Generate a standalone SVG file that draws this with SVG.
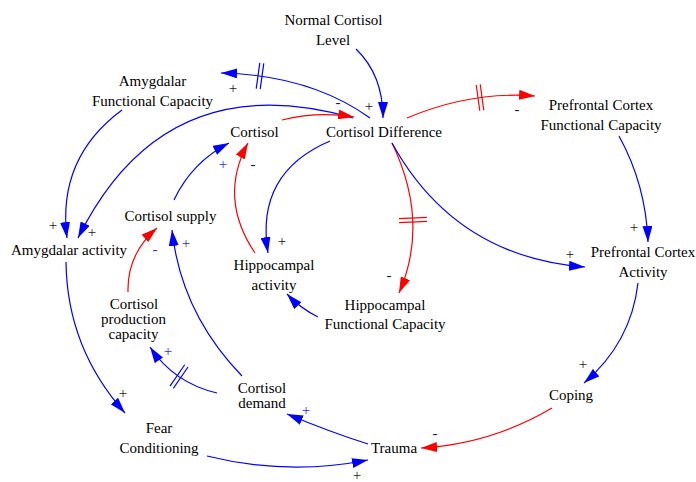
<svg xmlns="http://www.w3.org/2000/svg" width="696" height="482" viewBox="0 0 696 482">
<defs>
<style>
.n{font-family:"Liberation Serif","Times New Roman",serif;font-size:15px;fill:#000;text-anchor:middle}
.p{font-family:"Liberation Serif","Times New Roman",serif;font-size:15px;fill:#1a1a1a;text-anchor:middle}
.pb{fill:#2a2aff}
.b{fill:none;stroke:#0000ff;stroke-width:1.2;marker-end:url(#ab)}
.r{fill:none;stroke:#ff0000;stroke-width:1.2;marker-end:url(#ar)}
.db{stroke:#0000ff;stroke-width:1.2}
.dr{stroke:#ff0000;stroke-width:1.2}
</style>
<marker id="ab" markerUnits="userSpaceOnUse" markerWidth="16" markerHeight="10" refX="16" refY="5" orient="auto" viewBox="0 0 16 10"><path d="M0,0 L16,5 L0,10 z" fill="#0000ff"/></marker>
<marker id="ar" markerUnits="userSpaceOnUse" markerWidth="16" markerHeight="10" refX="16" refY="5" orient="auto" viewBox="0 0 16 10"><path d="M0,0 L16,5 L0,10 z" fill="#ff0000"/></marker>
</defs>
<rect width="696" height="482" fill="#fff"/>
<g id="connectors">
<path class="b" d="M356,49 Q383,75 383,118"/>
<path class="b" d="M370,118 Q310,75 221,73"/>
<path class="b" d="M353,118 Q164,64 78,238"/>
<path class="b" d="M122,110 Q57,158 67,238"/>
<path class="b" d="M174,200 Q192,162 229,143"/>
<path class="r" d="M255,253 Q218,198 248,143"/>
<path class="b" d="M330,141 Q255,173 268,253"/>
<path class="r" d="M392,143 Q430,222 399,293"/>
<path class="b" d="M392,143 Q455,257 585,267"/>
<path class="r" d="M407,118 Q471,91 535,96"/>
<path class="b" d="M619,136 Q646,185 648,242"/>
<path class="b" d="M638,283 Q631,343 584,383"/>
<path class="r" d="M552,408 Q491,444 421,448"/>
<path class="b" d="M368,444 Q330,432 287,414"/>
<path class="b" d="M207,456 Q287,476 368,460"/>
<path class="b" d="M66,262 Q67,348 125,413"/>
<path class="b" d="M217,393 Q174,383 150,347"/>
<path class="b" d="M242,376 Q181,313 172,230"/>
<path class="r" d="M128,292 Q127,254 157,228"/>
<path class="r" d="M282,120 Q318,111 354,117"/>
<path class="b" d="M318,317 Q300,308 287,294"/>
<g class="db" transform="translate(260,76) rotate(7.9)"><line x1="-2" y1="-13" x2="-2" y2="13"/><line x1="2" y1="-13" x2="2" y2="13"/></g>
<g class="dr" transform="translate(480,97.6) rotate(-7.8)"><line x1="-2" y1="-13" x2="-2" y2="13"/><line x1="2" y1="-13" x2="2" y2="13"/></g>
<g class="dr" transform="translate(413,220) rotate(87.3)"><line x1="-2" y1="-14" x2="-2" y2="14"/><line x1="2" y1="-14" x2="2" y2="14"/></g>
<g class="db" transform="translate(179,376.6) rotate(34.5)"><line x1="-2" y1="-13" x2="-2" y2="13"/><line x1="2" y1="-13" x2="2" y2="13"/></g>
<text class="p" x="369" y="111">+</text>
<text class="p" x="338" y="107">-</text>
<text class="p" x="233" y="93">+</text>
<text class="p" x="92" y="237">+</text>
<text class="p" x="53" y="230">+</text>
<text class="p pb" x="223" y="169">+</text>
<text class="p" x="253" y="169">-</text>
<text class="p" x="282" y="246">+</text>
<text class="p" x="389" y="280">-</text>
<text class="p" x="570" y="259">+</text>
<text class="p" x="517" y="114">-</text>
<text class="p" x="634" y="232">+</text>
<text class="p" x="583" y="369">+</text>
<text class="p" x="435" y="438">-</text>
<text class="p pb" x="306" y="415">+</text>
<text class="p" x="357" y="480">+</text>
<text class="p" x="123" y="398">+</text>
<text class="p pb" x="168" y="356">+</text>
<text class="p pb" x="186" y="248">+</text>
<text class="p pb" x="155" y="254">-</text>
</g>
<g id="normal_cortisol_level"><text class="n" x="333.5" y="25">Normal Cortisol</text><text class="n" x="333" y="45">Level</text></g>
<g id="amygdalar_functional_capacity"><text class="n" x="152.5" y="86">Amygdalar</text><text class="n" x="152.5" y="106">Functional Capacity</text></g>
<g id="cortisol"><text class="n" x="254.5" y="136.5">Cortisol</text></g>
<g id="cortisol_difference"><text class="n" x="384" y="136.5">Cortisol Difference</text></g>
<g id="prefrontal_cortex_functional_capacity"><text class="n" x="601" y="110">Prefrontal Cortex</text><text class="n" x="601" y="130">Functional Capacity</text></g>
<g id="cortisol_supply"><text class="n" x="170.5" y="221">Cortisol supply</text></g>
<g id="amygdalar_activity"><text class="n" x="69" y="255">Amygdalar activity</text></g>
<g id="hippocampal_activity"><text class="n" x="274" y="270">Hippocampal</text><text class="n" x="274" y="290">activity</text></g>
<g id="hippocampal_functional_capacity"><text class="n" x="385" y="310">Hippocampal</text><text class="n" x="385" y="329">Functional Capacity</text></g>
<g id="prefrontal_cortex_activity"><text class="n" x="643" y="257">Prefrontal Cortex</text><text class="n" x="643" y="277">Activity</text></g>
<g id="coping"><text class="n" x="571" y="400">Coping</text></g>
<g id="cortisol_production_capacity"><text class="n" x="134" y="309">Cortisol</text><text class="n" x="133.5" y="324">production</text><text class="n" x="133.5" y="339">capacity</text></g>
<g id="cortisol_demand"><text class="n" x="262" y="393">Cortisol</text><text class="n" x="262" y="408">demand</text></g>
<g id="fear_conditioning"><text class="n" x="159" y="433">Fear</text><text class="n" x="159" y="453">Conditioning</text></g>
<g id="trauma"><text class="n" x="394" y="453">Trauma</text></g>
</svg>
